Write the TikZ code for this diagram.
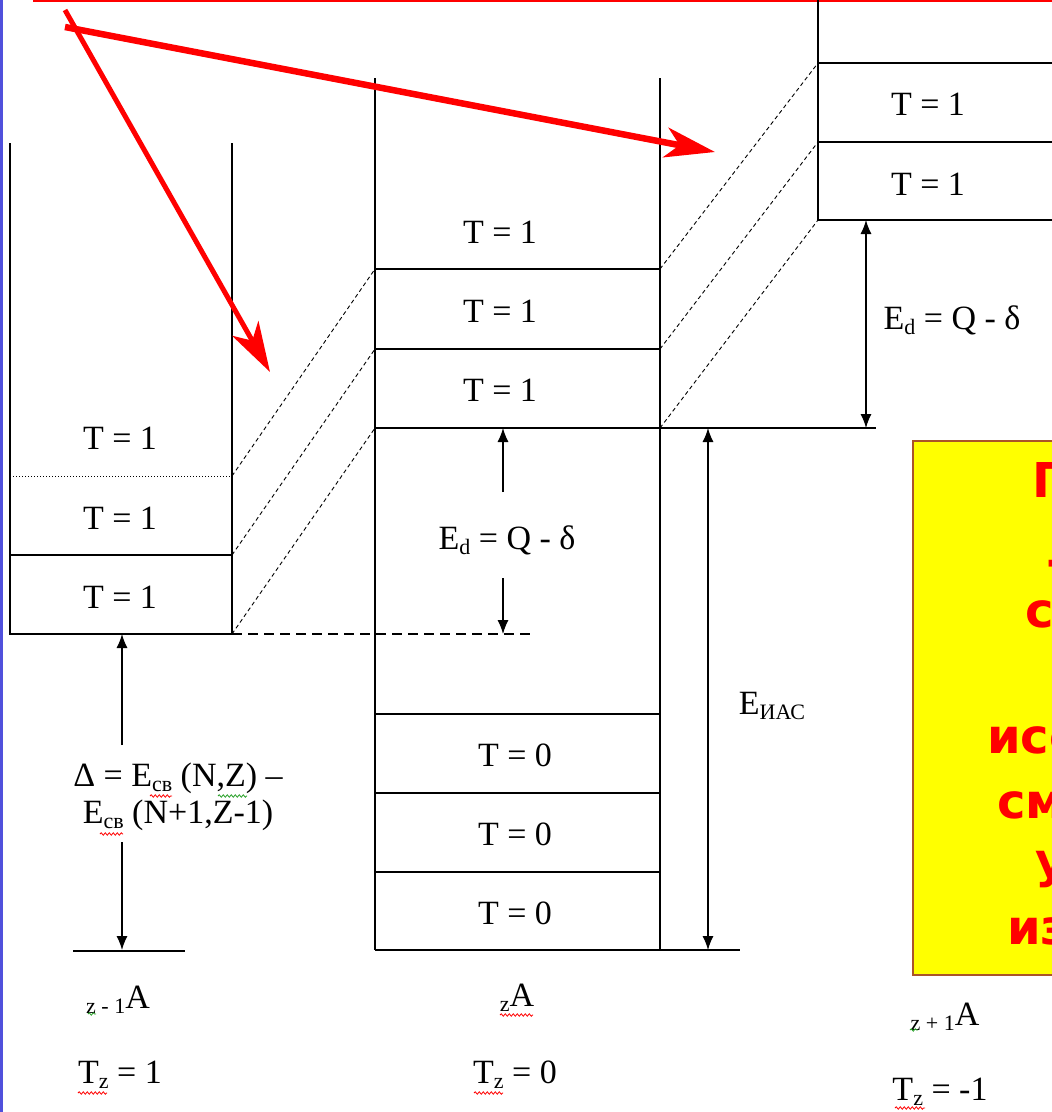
\documentclass[tikz,border=0pt]{standalone}
\usepackage{fontspec}
\setmainfont{Liberation Serif}
\newfontfamily\kastenschrift{DejaVu Sans}
\usepackage{tikz}
\definecolor{pfeilrot}{RGB}{255,0,0}
\definecolor{kastengelb}{RGB}{255,255,0}
\definecolor{kastenrand}{RGB}{170,85,40}
\definecolor{randblau}{RGB}{80,80,220}
\definecolor{kringelgruen}{RGB}{40,160,40}
\usetikzlibrary{arrows.meta, decorations.pathmorphing}
\newcommand{\tiefsatz}[1]{\raisebox{-5pt}{\fontsize{22}{22}\selectfont #1}}

\begin{document}
\begin{tikzpicture}[x=1pt, y=-1pt,
				>={Latex[length=14pt,width=11pt]},   %Pfeilspitzen
				niveau/.style={line width=1.6pt},
				schraeg/.style={line width=0.9pt, dash pattern=on 4pt off 3pt},
				beschr/.style={inner sep=0pt, align=center, font=\fontsize{34}{37}\selectfont},
				kasten/.style={inner sep=0pt, anchor=base west, text=pfeilrot, font=\kastenschrift\bfseries\fontsize{48}{63}\selectfont},
				kringel/.style={decorate, decoration={snake, amplitude=1.2pt, segment length=4pt}, line width=0.8pt},
				rotpfeil/.style={pfeilrot, -{Stealth[length=50pt, width=30pt, inset=14pt]}}]
				\useasboundingbox (0,0) rectangle (1052,1112);
				\clip (0,0) rectangle (1052,1112);
				% Rand
				\draw[randblau, line width=3pt] (1,0) -- (1,1112);
				\draw[pfeilrot, line width=1.5pt] (33,0.75) -- (1052,0.75);
				% Kasten rechts
				\filldraw[fill=kastengelb, draw=kastenrand, line width=1.5pt] (913,441) rectangle (1070,975);
				\node[kasten] (k1) at (1032,497) {П};
				\node[kasten] (k2) at (1046,577) {-};
				\node[kasten] (k3) at (1025,627) {с};
				\node[kasten] (k4) at (987,753) {исс};
				\node[kasten] (k5) at (997,818) {см};
				\node[kasten] (k6) at (1035,877) {у};
				\node[kasten] (k7) at (1007,944) {из};
				% Niveaus links (z-1)
				\draw[niveau] (10,143) -- (10,634) -- (232,634) -- (232,143);
				\draw[niveau] (10,555) -- (232,555);
				\draw[dotted, line width=1pt] (10,476) -- (232,476);
				\draw[line width=1.3pt, dash pattern=on 10pt off 6pt] (232,634) -- (535,634);
				\foreach \y [count=\i] in {438,518,597} \node[beschr] (links\i) at (120,\y) {T = 1};
				% Niveaus Mitte (z)
				\draw[niveau] (375,78) -- (375,950) (660,78) -- (660,950);
				\foreach \y in {269,349,714,793,872} \draw[niveau] (375,\y) -- (660,\y);
				\draw[niveau] (375,428) -- (876,428);
				\draw[niveau] (375,950) -- (740,950);
				\foreach \y [count=\i] in {232,311,390} \node[beschr] (mitte\i) at (500,\y) {T = 1};
				\foreach \y [count=\i] in {755,834,913} \node[beschr] (grund\i) at (515,\y) {T = 0};
				% Niveaus rechts (z+1)
				\draw[niveau] (818,0) -- (818,220) -- (1052,220);
				\draw[niveau] (818,63) -- (1052,63) (818,142) -- (1052,142);
				\foreach \y [count=\i] in {104,184} \node[beschr] (rechts\i) at (928,\y) {T = 1};
				% Analogzustaende verbinden
				\foreach \a/\b in {476/269, 555/349, 634/428} \draw[schraeg] (232,\a) -- (375,\b);
				\foreach \a/\b in {269/63, 349/142, 428/220} \draw[schraeg] (660,\a) -- (818,\b);
				% Energien
				\node[beschr] (delta) at (178,797) {Δ = E\tiefsatz{св} (N,Z) –\\E\tiefsatz{св} (N+1,Z-1)};
				\coordinate (deltaA) at (122,745); \coordinate (deltaB) at (122,842);
				\draw[->, line width=1.2pt] (deltaA) -- (122,634);
				\draw[->, line width=1.2pt] (deltaB) -- (122,950);
				\draw[niveau] (73,951) -- (185,951);
				\node[beschr] (edmitte) at (507,540) {E\tiefsatz{d} = Q - δ};
				\coordinate (edA) at (503,492); \coordinate (edB) at (503,578);
				\draw[->, line width=1.2pt] (edA) -- (503,428);
				\draw[->, line width=1.2pt] (edB) -- (503,634);
				\node[beschr] (edrechts) at (952,320) {E\tiefsatz{d} = Q - δ};
				\draw[<->, line width=1.2pt] (866,220) -- (866,428);
				\node[beschr] (eias) at (772,706) {E\tiefsatz{ИАС}};
				\draw[<->, line width=1.2pt] (708,428) -- (708,950);
				% Kerne
				\node[beschr] (kern1) at (118,1000) {\tiefsatz{z - 1}A};
				\node[beschr] (tz1) at (120,1075) {T\tiefsatz{z} = 1};
				\node[beschr] (kern2) at (517,998) {\tiefsatz{z}A};
				\node[beschr] (tz2) at (515,1075) {T\tiefsatz{z} = 0};
				\node[beschr] (kern3) at (945,1017) {\tiefsatz{z + 1}A};
				\node[beschr] (tz3) at (940,1092) {T\tiefsatz{z} = -1};
				% Rechtschreibkringel
				\draw[kringel, red] (150,796) -- (172,796);
				\draw[kringel, kringelgruen] (218,796) -- (247,796);
				\draw[kringel, red] (100,834) -- (123,834);
				\draw[kringel, kringelgruen] (88,1014) -- (96,1014);
				\draw[kringel, red] (78,1093) -- (107,1093);
				\draw[kringel, red] (500,1015) -- (533,1015);
				\draw[kringel, red] (474,1093) -- (503,1093);
				\draw[kringel, kringelgruen] (910,1030) -- (918,1030);
				\draw[kringel, red] (895,1108) -- (925,1108);
				% Rote Pfeile
				\coordinate (rotstart1) at (65,10); \coordinate (rotziel1) at (270,372);
				\coordinate (rotstart2) at (65,27); \coordinate (rotziel2) at (715,152);
				\draw[rotpfeil, line width=5pt] (rotstart1) -- (rotziel1);
				\draw[rotpfeil, line width=6.5pt] (rotstart2) -- (rotziel2);
			\end{tikzpicture}
\end{document}
